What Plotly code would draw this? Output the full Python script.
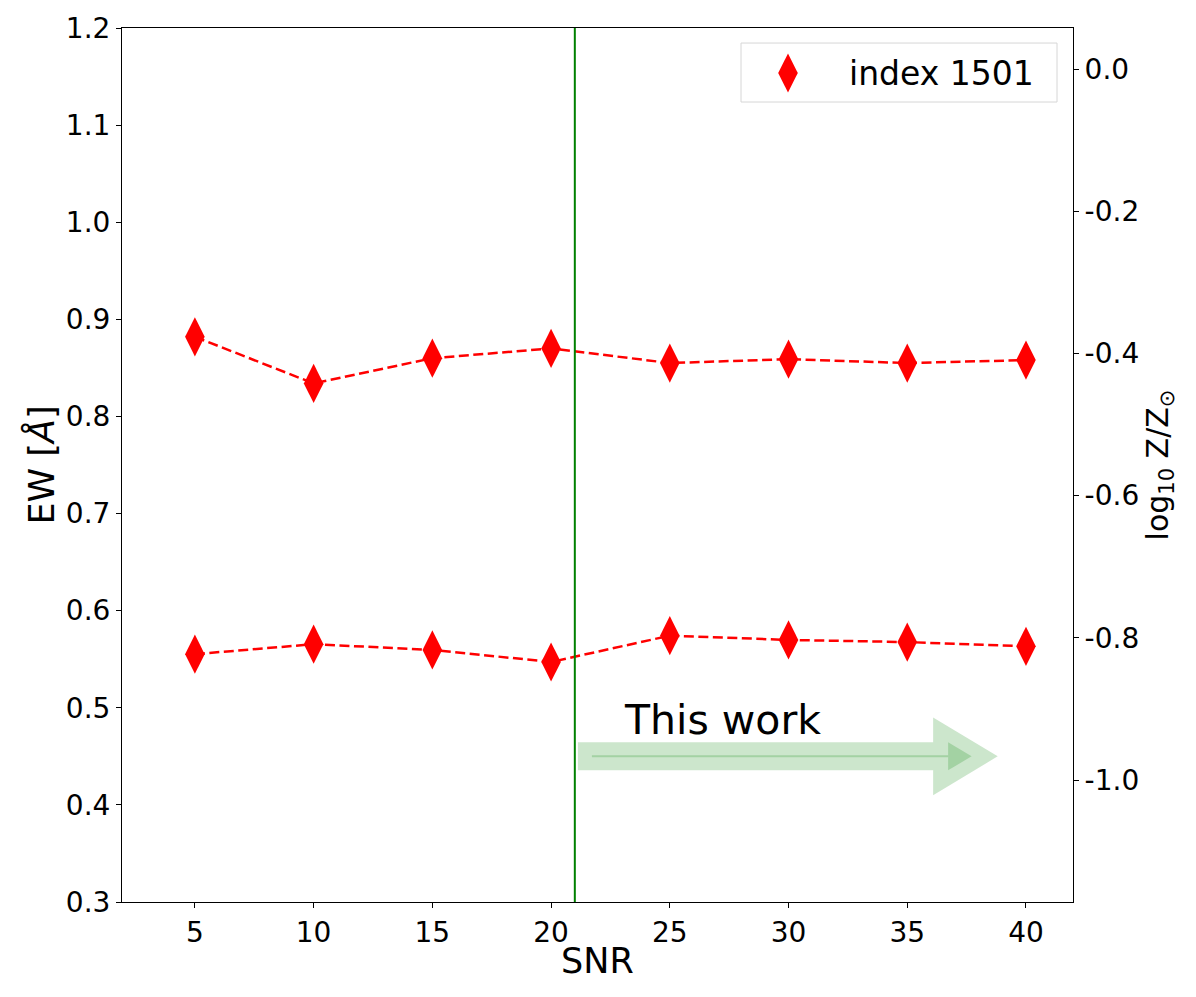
import plotly.graph_objects as go

# ---- data ----
snr = [5, 10, 15, 20, 25, 30, 35, 40]
ew_index1501 = [0.882, 0.834, 0.860, 0.870, 0.855, 0.859, 0.855, 0.858]
logz_index1501 = [-0.823, -0.809, -0.817, -0.834, -0.797, -0.803, -0.806, -0.812]
legend_label = "index 1501"
x_ticks = [5, 10, 15, 20, 25, 30, 35, 40]
left_ticks = [0.3, 0.4, 0.5, 0.6, 0.7, 0.8, 0.9, 1.0, 1.1, 1.2]
right_ticks = [0.0, -0.2, -0.4, -0.6, -0.8, -1.0]
right_ticktext = ["0.0", "-0.2", "-0.4", "-0.6", "-0.8", "-1.0"]
snr_cut = 21.0
arrow_text = "This work"
x_title = "SNR"

# ---- style ----
FONT = "DejaVu Sans"
RED = "#ff0000"
GREEN = "#008000"
ARROW_FILL = "rgba(0,128,0,0.2)"
W, H = 1196, 997
# page body has an 8px margin, so margins are shifted accordingly
ML, MR, MT, MB = 114, 131, 20, 103

fig = go.Figure()

# dashed connecting lines
fig.add_trace(go.Scatter(x=snr, y=ew_index1501, mode="lines",
                         line=dict(color=RED, width=2.5, dash="10px,4.5px"),
                         showlegend=False, hoverinfo="skip", yaxis="y"))
fig.add_trace(go.Scatter(x=snr, y=logz_index1501, mode="lines",
                         line=dict(color=RED, width=2.5, dash="10px,4.5px"),
                         showlegend=False, hoverinfo="skip", xaxis="x", yaxis="y2"))
# diamond markers
fig.add_trace(go.Scatter(x=snr, y=ew_index1501, mode="markers",
                         marker=dict(symbol="diamond-tall", size=28, color=RED),
                         showlegend=False, yaxis="y"))
fig.add_trace(go.Scatter(x=snr, y=logz_index1501, mode="markers",
                         marker=dict(symbol="diamond-tall", size=28, color=RED),
                         showlegend=False, xaxis="x", yaxis="y2"))

# legend key (drawn on a hidden unit axis covering the plot area)
leg_x0, leg_x1, leg_y0, leg_y1 = 0.6509, 0.9832, 0.9153, 0.9828
fig.add_trace(go.Scatter(x=[0.7003], y=[0.9485], mode="markers",
                         marker=dict(symbol="diamond-tall", size=28, color=RED),
                         showlegend=False, hoverinfo="skip",
                         xaxis="x3", yaxis="y3"))

# ---- arrow "This work" (data coordinates) ----
ay = 0.45
ax0, ax_head, ax_tip = 21.13, 36.09, 38.81
body_h, head_h = 0.0144, 0.0401
outer = (f"M{ax0},{ay-body_h} L{ax_head},{ay-body_h} L{ax_head},{ay-head_h} "
         f"L{ax_tip},{ay} L{ax_head},{ay+head_h} L{ax_head},{ay+body_h} "
         f"L{ax0},{ay+body_h} Z")
ix0, ix_head, ix_tip = 21.72, 36.72, 37.71
inner_head = f"M{ix_head},{ay-body_h} L{ix_tip},{ay} L{ix_head},{ay+body_h} Z"

shapes = [
    dict(type="path", path=outer, xref="x", yref="y", fillcolor=ARROW_FILL,
         line=dict(width=0), layer="above"),
    dict(type="line", x0=ix0, x1=ix_head, y0=ay, y1=ay, xref="x", yref="y",
         line=dict(color=ARROW_FILL, width=2), layer="above"),
    dict(type="path", path=inner_head, xref="x", yref="y", fillcolor=ARROW_FILL,
         line=dict(width=0), layer="above"),
    dict(type="line", x0=snr_cut, x1=snr_cut, y0=0, y1=1, xref="x", yref="paper",
         line=dict(color=GREEN, width=2), layer="above"),
    dict(type="rect", x0=leg_x0, x1=leg_x1, y0=leg_y0, y1=leg_y1,
         xref="paper", yref="paper", fillcolor="rgba(255,255,255,0.8)",
         line=dict(color="#d6d6d6", width=1), layer="below"),
]

annotations = [
    dict(x=23.0, y=0.487, xref="x", yref="y", text=arrow_text, showarrow=False,
         xanchor="left", yanchor="middle", font=dict(family=FONT, size=41, color="black")),
    dict(x=0.7624, y=0.9485, xref="paper", yref="paper", text=legend_label,
         showarrow=False, xanchor="left", yanchor="middle",
         font=dict(family=FONT, size=33, color="black")),
    dict(x=0.5, y=-0.0675, xref="paper", yref="paper", text=x_title,
         showarrow=False, xanchor="center", yanchor="middle",
         font=dict(family=FONT, size=35, color="black")),
]

axis_common = dict(showline=True, linecolor="black", linewidth=1,
                   ticks="outside", ticklen=5, tickwidth=1, tickcolor="black",
                   showgrid=False, zeroline=False, automargin=False,
                   tickfont=dict(family=FONT, size=28, color="black"))

fig.update_layout(
    width=W, height=H,
    margin=dict(l=ML, r=MR, t=MT, b=MB, pad=0),
    paper_bgcolor="white", plot_bgcolor="rgba(0,0,0,0)",
    showlegend=False,
    font=dict(family=FONT, color="black"),
    xaxis=dict(range=[1.93, 41.98], tickvals=x_ticks, mirror=True,
               **axis_common),
    yaxis=dict(range=[0.3, 1.2], tickvals=left_ticks, tickformat=".1f",
               title=dict(text="EW [<i>Å</i>]", font=dict(family=FONT, size=35), standoff=0),
               **axis_common),
    yaxis2=dict(range=[-1.1716, 0.0577], tickvals=right_ticks, ticktext=right_ticktext,
                overlaying="y", side="right", anchor="x",
                title=dict(text="log<sub>10</sub> Z/Z<sub>⊙</sub>",
                           font=dict(family=FONT, size=30), standoff=8),
                **axis_common),
    xaxis3=dict(domain=[0, 1], range=[0, 1], visible=False, anchor="y3",
                overlaying="x", automargin=False),
    yaxis3=dict(domain=[0, 1], range=[0, 1], visible=False, anchor="x3",
                overlaying="y", automargin=False),
    shapes=shapes,
    annotations=annotations,
)

fig.write_html("out.html")
